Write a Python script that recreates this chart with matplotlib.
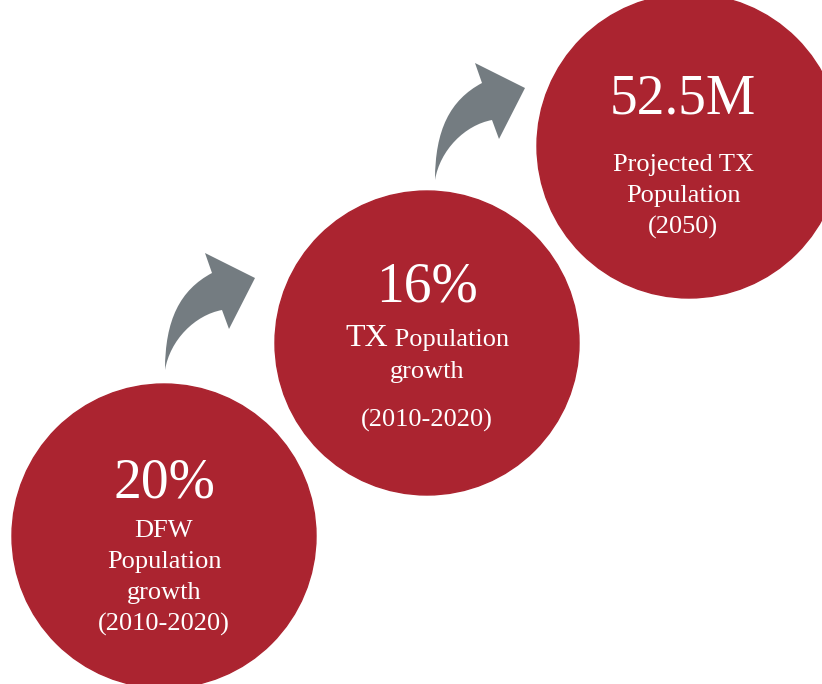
import matplotlib.pyplot as plt
from matplotlib.patches import Circle, PathPatch
from matplotlib.path import Path

# three stat bubbles, bottom-left to top-right
big_numbers = ['20%', '16%', '52.5M']
captions = [['DFW', 'Population', 'growth', '(2010-2020)'],
            ['TX', 'Population', 'growth', '(2010-2020)'],
            ['Projected TX', 'Population', '(2050)']]

red = '#ab2430'
grey = '#747c81'

plt.rcParams['font.family'] = ['Liberation Serif', 'DejaVu Serif']

fig = plt.figure(figsize=(8.22, 6.84), dpi=100)
ax = fig.add_axes([0, 0, 1, 1])
ax.set_xlim(0, 822)
ax.set_ylim(684, 0)
ax.axis('off')

centers = [(164, 536), (427, 343), (689, 146)]
radius = 152
for c in centers:
    ax.add_patch(Circle(c, radius, color=red, zorder=1))

# curved arrow outline, relative to its tail point
arrow = [(0, 0), (0, -50), (15, -80), (47, -97),
         (40, -117), (90, -92), (64, -41), (57, -60),
         (30, -55), (5, -30), (0, 0)]
codes = [Path.MOVETO, Path.CURVE4, Path.CURVE4, Path.CURVE4,
         Path.LINETO, Path.LINETO, Path.LINETO, Path.LINETO,
         Path.CURVE4, Path.CURVE4, Path.CURVE4]
for tx, ty in [(165, 370), (435, 180)]:
    verts = [(tx + dx, ty + dy) for dx, dy in arrow]
    ax.add_patch(PathPatch(Path(verts, codes), color=grey, lw=0, zorder=2))

big = 40
small = 19

# bubble 1
ax.text(164, 484, big_numbers[0], color='white', fontsize=big, ha='center', va='center')
for i, line in enumerate(captions[0]):
    ax.text(164, 531 + i * 31, line, color='white', fontsize=small, ha='center', va='center')

# bubble 2 - "TX" is set a bit larger than the rest of the line
ax.text(427, 287, big_numbers[1], color='white', fontsize=big, ha='center', va='center')
t1 = ax.text(0, 346, captions[1][0], color='white', fontsize=23, ha='left', va='baseline')
t2 = ax.text(0, 346, ' ' + captions[1][1], color='white', fontsize=small, ha='left', va='baseline')
r = fig.canvas.get_renderer()
w1 = t1.get_window_extent(r).width
w2 = t2.get_window_extent(r).width
x0 = 427 - (w1 + w2) / 2
t1.set_x(x0)
t2.set_x(x0 + w1)
ax.text(427, 372, captions[1][2], color='white', fontsize=small, ha='center', va='center')
ax.text(427, 420, captions[1][3], color='white', fontsize=small, ha='center', va='center')

# bubble 3
ax.text(683, 100, big_numbers[2], color='white', fontsize=big, ha='center', va='center')
for i, line in enumerate(captions[2]):
    ax.text(683, 165 + i * 31, line, color='white', fontsize=small, ha='center', va='center')

fig.savefig('out.png', dpi=100)
